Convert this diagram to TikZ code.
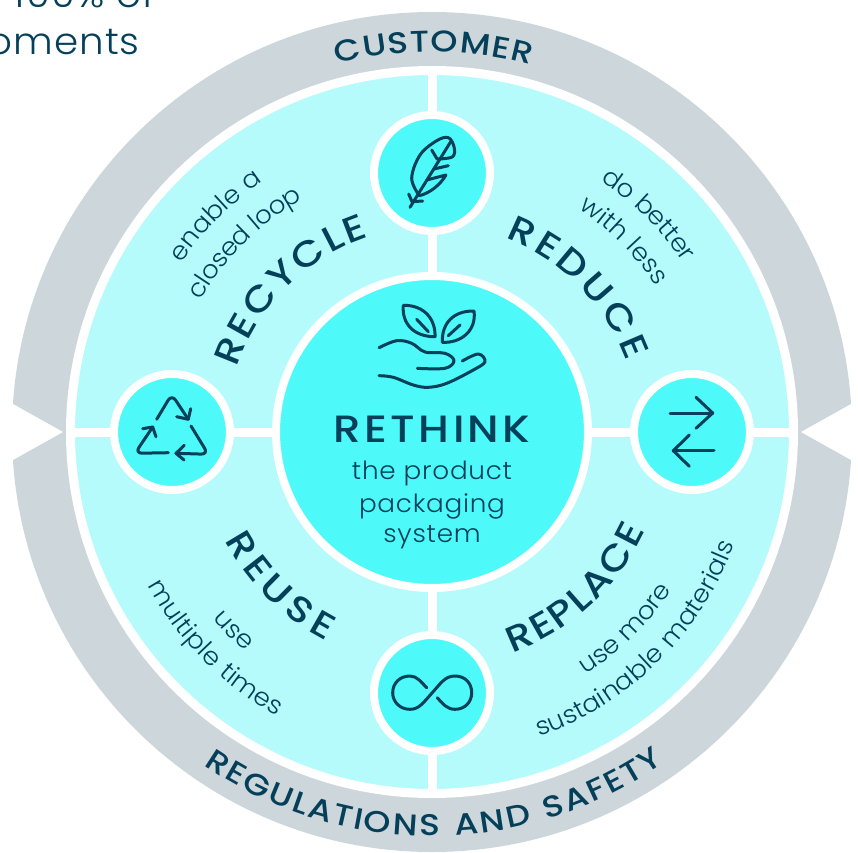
\documentclass[tikz,border=0pt]{standalone}
\usepackage{fontspec}
\usetikzlibrary{decorations.text}
\newfontfamily\headfont[LetterSpace=9, FakeStretch=1.15]{Poppins Medium}
\newfontfamily\subfont[LetterSpace=3, FakeStretch=1.05]{Poppins Light}
\definecolor{ink}{HTML}{05405A}
\definecolor{ringgray}{HTML}{CDD6DA}
\definecolor{palecyan}{HTML}{B6FBFB}
\definecolor{brightcyan}{HTML}{4DF9F9}
\tikzset{
	hubdisc/.style={circle, fill=brightcyan, draw=white, line width=8pt, minimum size=312pt, inner sep=0pt},
	smalldisc/.style={circle, fill=brightcyan, draw=white, line width=8pt, minimum size=116pt, inner sep=0pt},
	spoke/.style={draw=white, line width=9pt},
	icon/.style={draw=ink, line width=3pt, line cap=round, line join=round},
	curved/.style 2 args={decorate, decoration={text effects along path, text={#2}, text effects/.cd, text along path, fit text to path, characters={text=ink, font=#1}}},
}
\newcommand{\bighead}{\fontsize{36}{36}\headfont}
\newcommand{\ringhead}{\fontsize{30}{30}\headfont}
\newcommand{\smalltext}{\fontsize{25}{25}\subfont}
\begin{document}
\begin{tikzpicture}[x=1pt, y=1pt]
	\useasboundingbox (-432,-420) rectangle (426,432);
	\fill[ringgray] (0,0) circle[radius=420];
	\fill[white] (-369,0) -- (-428,33) -- (-428,-33) -- cycle;
	\fill[white] (369,0) -- (428,33) -- (428,-33) -- cycle;
	\fill[palecyan, draw=white, line width=9pt] (0,0) circle[radius=361.5];
	\coordinate (edgetop) at (0,358);
	\coordinate (edgeright) at (358,0);
	\coordinate (edgebottom) at (0,-358);
	\coordinate (edgeleft) at (-358,0);
	\node[hubdisc] (hub) at (0,0) {};
	\node[smalldisc] (feather) at (0,259) {};
	\node[smalldisc] (swap) at (260,0) {};
	\node[smalldisc] (infinity) at (0,-261) {};
	\node[smalldisc] (recycling) at (-260,0) {};
	\draw[spoke] (edgetop) -- (feather);
	\draw[spoke] (feather) -- (hub);
	\draw[spoke] (edgeright) -- (swap);
	\draw[spoke] (swap) -- (hub);
	\draw[spoke] (edgebottom) -- (infinity);
	\draw[spoke] (infinity) -- (hub);
	\draw[spoke] (edgeleft) -- (recycling);
	\draw[spoke] (recycling) -- (hub);

	\path[curved={\ringhead}{CUSTOMER}] (104.5:380) arc[start angle=104.5, end angle=75, radius=380];
	\path[curved={\ringhead}{REGULATIONS AND SAFETY}] (235.5:404) arc[start angle=235.5, end angle=305, radius=404];
	\path[curved={\bighead}{RECYCLE}] (161.7:205) arc[start angle=161.7, end angle=108, radius=205];
	\path[curved={\bighead}{REDUCE}] (69.3:207) arc[start angle=69.3, end angle=20, radius=207];
	\path[curved={\bighead}{REUSE}] (207.7:234) arc[start angle=207.7, end angle=243.1, radius=234];
	\path[curved={\bighead}{REPLACE}] (290:235) arc[start angle=290, end angle=335.3, radius=235];
	\path[curved={\smalltext}{enable a}] (146:302) arc[start angle=146, end angle=124, radius=302];
	\path[curved={\smalltext}{closed loop}] (150.4:266) arc[start angle=150.4, end angle=119, radius=266];
	\path[curved={\smalltext}{do better}] (56.2:303) arc[start angle=56.2, end angle=34, radius=303];
	\path[curved={\smalltext}{with less}] (56.8:267) arc[start angle=56.8, end angle=33, radius=267];
	\path[curved={\smalltext}{use}] (220.3:288) arc[start angle=220.3, end angle=229.7, radius=288];
	\path[curved={\smalltext}{multiple times}] (208.3:323) arc[start angle=208.3, end angle=241.4, radius=323];
	\path[curved={\smalltext}{use more}] (302.4:287) arc[start angle=302.4, end angle=326.7, radius=287];
	\path[curved={\smalltext}{sustainable materials}] (289.4:323) arc[start angle=289.4, end angle=339.6, radius=323];

	\node[anchor=base, text=ink, inner sep=0pt] (rethink) at (0,-10) {\fontsize{38}{38}\headfont RETHINK};
	\node[anchor=base, text=ink, inner sep=0pt] (lineone) at (0,-47) {\fontsize{25}{25}\subfont the product};
	\node[anchor=base, text=ink, inner sep=0pt] (linetwo) at (0,-80) {\fontsize{25}{25}\subfont packaging};
	\node[anchor=base, text=ink, inner sep=0pt] (linethree) at (0,-110) {\fontsize{25}{25}\subfont system};
	\node[anchor=base east, text=ink, inner sep=0pt] (clipone) at (-277,424) {\fontsize{37}{37}\subfont 100\% of};
	\node[anchor=base east, text=ink, inner sep=0pt] (cliptwo) at (-292,377) {\fontsize{37}{37}\subfont oments};

	% hand with leaves
	\draw[icon] (-28.7,126.7) .. controls (-7,127) and (3.7,112) .. (3,95.3) .. controls (-18.7,95.3) and (-30.3,108.7) .. cycle;
	\draw[icon] (-15.3,112.7) -- (-3.7,100.3);
	\draw[icon] (10.3,89.7) .. controls (9.7,108.7) and (21.3,121.3) .. (42,121) .. controls (44.7,102) and (29.7,88.7) .. cycle;
	\draw[icon] (16.3,96.3) -- (28,107);
	\draw[icon] plot[smooth, tension=0.6] coordinates {(-53,84.3) (-35.3,91.3) (-20.3,88.7) (-7,80) (13,78.7) (22,71.3) (13,63.7) (-14.7,63.7)};
	\draw[icon] plot[smooth, tension=0.6] coordinates {(-53,56.3) (-38.7,54.7) (-18.7,47) (-3.7,44.7) (14.7,48.7) (41.3,62) (53,70.3) (46.3,78) (30.3,71)};

	\begin{scope}[shift={(feather.center)}]
		\draw[icon] plot[smooth, tension=0.6] coordinates {(-12.7,-22.7) (-20.3,-5.3) (-12,18) (4.7,32.3) (16.3,35.3) (22,26.3) (20.7,16.3) (6.3,14)};
		\draw[icon] (-22,-34.3) -- (18.7,31.3);
		\draw[icon] (-0.3,23) -- (5.3,13.7);
		\draw[icon] (16.3,7.3) -- (2,4);
		\draw[icon] (-5.3,-7) -- (14,-2) .. controls (8,-12) and (-2,-20) .. (-12.7,-22.7);
		\draw[icon] (-23.3,-21) -- (-20,-28.7) -- (-9.3,-28);
	\end{scope}
	\begin{scope}[shift={(swap.center)}]
		\draw[icon] (-22,19) -- (20.7,19);
		\draw[icon] (4,34.7) -- (20.7,19) -- (4,3.7);
		\draw[icon] (22,-18.7) -- (-18.7,-18.7);
		\draw[icon] (-2.7,-3) -- (-18.7,-18.7) -- (-2.7,-34.3);
	\end{scope}
	\begin{scope}[shift={(infinity.center)}]
		\draw[icon] (-5.3,5.3) .. controls (-11,11) and (-15,17) .. (-22,17) .. controls (-32,17) and (-39.3,10) .. (-39.3,0.3) .. controls (-39.3,-9) and (-32,-16.3) .. (-22,-16.3) .. controls (-13,-16.3) and (-9,-10) .. (0,0) .. controls (9,10) and (13,17) .. (23,17) .. controls (33,17) and (39.7,10) .. (39.7,0.3) .. controls (39.7,-9) and (33,-16.3) .. (23,-16.3) .. controls (15,-16.3) and (11,-11) .. (5.3,-4.7);
	\end{scope}
	\begin{scope}[shift={(recycling.center)}]
		\draw[icon, rounded corners=7pt] (-15.3,12.7) -- (-0.3,37.7) -- (16.3,12.7);
		\draw[icon] (4.7,15.3) -- (16.3,12.7) -- (18.7,23.3);
		\draw[icon, rounded corners=7pt] (19,6) -- (36.3,-22.3) -- (4,-21.3);
		\draw[icon] (12.3,-13.3) -- (4,-21.3) -- (12,-28);
		\draw[icon, rounded corners=7pt] (-3.7,-20.7) -- (-37,-21.3) -- (-19.3,5);
		\draw[icon] (-29.3,3.3) -- (-19.3,5) -- (-16,-4.7);
	\end{scope}
\end{tikzpicture}
\end{document}
